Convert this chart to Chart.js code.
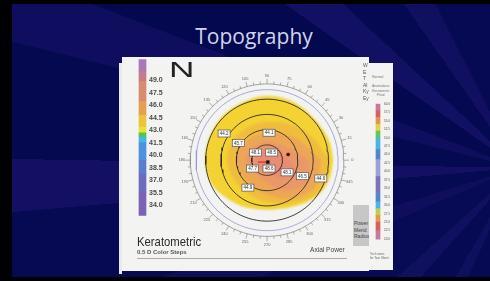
<!DOCTYPE html>
<html>
<head>
<meta charset="utf-8">
<title>Topography</title>
<script src="https://cdn.jsdelivr.net/npm/chart.js@4.4.1/dist/chart.umd.min.js"></script>
<style>
  html, body { margin: 0; padding: 0; width: 490px; height: 281px; overflow: hidden; background: #000; }
  #slide {
    position: absolute; left: 12px; top: 4px; width: 478px; height: 273px; overflow: hidden;
    background: conic-gradient(from 0deg at 106% 60%,
      #060a52 0deg 205deg, #0e0f5e 205deg 210deg, #060a52 210deg 222deg,
      #110f60 222deg 228deg, #070a55 228deg 247deg, #0f0e5d 247deg 253deg,
      #060a52 253deg 265deg, #130f62 265deg 271deg, #050950 271deg 284deg,
      #0f0e5e 284deg 291deg, #04084e 291deg 305deg, #121063 305deg 313deg,
      #050952 313deg 325deg, #100f60 325deg 333deg, #060a52 333deg 360deg);
  }
  #title { position: absolute; left: 0; top: 22px; width: 484px; text-align: center;
    font: 21px/21px "Open Sans", sans-serif; color: #d2d3ee; }
  .sheet { position: absolute; background: #f3f4f2; overflow: hidden; }
  #strip { left: 107px; top: 59px; width: 3px; height: 211px; background: #e8eae7; }
  #panel { left: 110px; top: 53px; width: 247px; height: 214px; }
  #side { left: 357px; top: 59px; width: 24px; height: 207px; }
  .t { position: absolute; font-family: "Liberation Sans", Arial, sans-serif; color: #333;
    white-space: nowrap; line-height: 1; transform-origin: left top; }
  canvas { position: absolute; }
</style>
</head>
<body>
<div id="slide">
  <div id="title">Topography</div>
  <div id="strip" class="sheet"></div>
  <div id="panel" class="sheet">
    <canvas id="topo" width="247" height="213" style="left:0;top:0"></canvas>
    <canvas id="keyBar" width="31" height="169" style="left:16px;top:-4px"></canvas>
    <div class="t" style="left:47px;top:2px;font-size:22px;transform:scaleX(1.6);color:#222">N</div>
    <div class="t" style="left:241px;top:5px;font-size:5px;line-height:6.5px;color:#555">W<br>E<br>T<br>Al<br>Ky<br>Ey</div>
    <div style="position:absolute;left:231px;top:148px;width:20px;height:41px;background:#c7c7c7"></div>
    <div class="t" style="left:232px;top:163px;font-size:5px;line-height:6.5px;color:#444">Power<br>Merid<br>Radius</div>
    <div class="t" style="left:15px;top:178px;font-size:13px;transform:scaleX(0.87);color:#2a2a2a">Keratometric</div>
    <div class="t" style="left:15px;top:192px;font-size:6px;font-weight:bold;color:#555">0.5 D Color Steps</div>
    <div class="t" style="left:188px;top:190px;font-size:6.6px;color:#444">Axial Power</div>
    <div style="position:absolute;left:15px;top:201px;width:210px;height:1px;background:#aaa"></div>
  </div>
  <div id="side" class="sheet">
    <div class="t" style="left:3px;top:12px;font-size:3.5px;line-height:4.5px;color:#777">Normal<br><br>Anomalous<br>Keratometr<br>&nbsp;&nbsp;&nbsp;&nbsp;&nbsp;Fluid</div>
    <canvas id="sideBar" width="18" height="146" style="left:4px;top:36px"></canvas>
    <div class="t" style="left:1px;top:190px;font-size:3px;line-height:3.8px;color:#666">Tech notes<br>for Tear Sheet</div>
  </div>
</div>

<script>
// ---- colour key (left) ----
const keyTicks = [34.0, 35.5, 37.0, 38.5, 40.0, 41.5, 43.0, 44.5, 46.0, 47.5, 49.0];
const keyEdges = [32, 35.5, 37.75, 39.5, 41.5, 42.2, 42.7, 43.4, 44.8, 46.5, 48.9, 50.05, 53];
const keyColors = ['#7a62b4', '#6c6cbc', '#5c7ccc', '#4e92dc', '#46b4e4', '#5cc050',
                   '#e6e23a', '#eac43c', '#e4a050', '#d68c72', '#c47c8c', '#a878b8'];

// ---- side scale (right) ----
const sideTicks = [20, 22.5, 25, 27.5, 30, 32.5, 35, 37.5, 40, 42.5, 45, 47.5, 50, 52.5, 55, 57.5, 60];
const sideEdges = [20, 22.5, 25, 27, 29, 31, 33.5, 38.5, 43.5, 46.5, 50, 52, 54, 56, 58, 60];
const sideColors = ['#c8789a', '#d6605e', '#e59a46', '#b8d04c', '#4cb4e2', '#4f86d2', '#7a70c0',
                    '#9aa0da', '#4f86d2', '#4cb4e2', '#6cc35a', '#e6cf48', '#e39448', '#d6605e', '#c8789a'];

// ---- topography map, polar [angle deg, radius mm] ----
const mapEdge = [[0, 8.6], [15, 8.5], [30, 8.3], [45, 8.2], [60, 8.3], [75, 8.4], [90, 8.4], [105, 8.3],
                 [120, 8.2], [135, 8.2], [150, 8.1], [165, 8.1], [180, 8.1], [195, 8.0], [210, 7.7],
                 [225, 7.2], [240, 6.9], [255, 6.6], [270, 6.5], [285, 6.6], [300, 7.0], [315, 7.6],
                 [330, 8.2], [345, 8.5]];
const zone445 = [[0, 8.2], [30, 6.5], [60, 5.5], [90, 5.0], [120, 5.0], [150, 5.2], [180, 5.2],
                 [210, 5.0], [240, 5.0], [270, 5.5], [300, 6.5], [330, 8.0]];
const zone460 = [[0, 7.0], [30, 5.0], [60, 4.0], [90, 3.6], [120, 3.6], [150, 3.8], [180, 4.0],
                 [210, 3.8], [240, 3.8], [270, 4.5], [300, 5.8], [330, 7.2]];
const zone475 = [[0, 5.5], [30, 3.2], [60, 2.5], [90, 2.4], [120, 2.4], [150, 2.6], [180, 2.8],
                 [210, 2.4], [240, 2.4], [270, 3.0], [300, 4.6], [330, 6.0]];
const zone485 = [[0, 3.0], [45, 1.6], [90, 1.5], [135, 1.5], [180, 1.6], [225, 1.3], [270, 1.6],
                 [310, 3.2], [335, 4.2]];
const zoneColors = ['#f3d232', '#f0bc3e', '#eda656', '#eb9868', '#e98c74'];

const contourRings = [2, 4, 6, 8];
const innerCircle = 9.25, outerCircle = 10;
const angleLabels = [0, 15, 30, 45, 60, 75, 90, 105, 120, 135, 150, 165,
                     180, 195, 210, 225, 240, 255, 270, 285, 300, 315, 330, 345];

// boxed readings (x, y in mm from the centre)
const readingX = [-5.6, 0.25, -3.75, -1.5, 0.6, -1.9, 0.25, 2.6, 4.6, 7.0, -2.5];
const readingY = [3.5, 3.6, 2.25, 1.0, 1.0, -1.1, -1.1, -1.6, -2.1, -2.4, -3.6];
const readingVal = [44.2, 44.1, 45.7, 48.1, 48.5, 47.7, 48.6, 48.1, 46.5, 44.6, 44.9];
const centreMark = { x: 0.1, y: -0.25 };
const apexDot = { x: 2.75, y: 0.75 };

const RAD = Math.PI / 180;
const toXY = pts => {
  const p = pts.map(([a, r]) => ({ x: r * Math.cos(a * RAD), y: r * Math.sin(a * RAD) }));
  p.push(p[0]);
  return p;
};
const circlePts = r => {
  const p = [];
  for (let a = 0; a <= 360; a += 4) p.push({ x: r * Math.cos(a * RAD), y: r * Math.sin(a * RAD) });
  return p;
};

const layers = [];
[mapEdge, zone445, zone460, zone475, zone485].forEach((z, i) => layers.push({
  data: toXY(z), fill: 'shape', backgroundColor: zoneColors[i], borderWidth: 0, tension: 0.35
}));
contourRings.forEach(r => layers.push({ data: circlePts(r), borderColor: '#2b2b2b', borderWidth: 0.9 }));
layers.push({ data: circlePts(innerCircle), borderColor: '#9595d6', borderWidth: 0.8 });
layers.push({ data: circlePts(outerCircle), borderColor: '#8d8d8d', borderWidth: 0.8 });
layers.push({ data: [centreMark, { x: centreMark.x - 1.3, y: centreMark.y }], borderColor: '#d03424', borderWidth: 1.2 });
layers.push({ data: [centreMark], showLine: false, pointStyle: 'rect', pointRadius: 2.3, backgroundColor: '#111' });
layers.push({ data: [apexDot], showLine: false, pointRadius: 1.8, backgroundColor: '#3a1212' });
layers.push({ data: readingX.map((x, i) => ({ x, y: readingY[i] })), showLine: false, pointRadius: 0 });
const readingIndex = 0;
layers.reverse();

const softFill = {
  id: 'softFill',
  beforeDraw(chart) { chart.ctx.filter = 'blur(0.8px)'; },
  beforeDatasetsDraw(chart) { chart.ctx.filter = 'none'; }
};

const dialDecor = {
  id: 'dialDecor',
  afterDatasetsDraw(chart) {
    const { ctx, scales: { x, y } } = chart;
    const at = (r, a) => [x.getPixelForValue(r * Math.cos(a * RAD)), y.getPixelForValue(r * Math.sin(a * RAD))];
    ctx.save();
    ctx.strokeStyle = '#7a7a7a';
    ctx.lineWidth = 0.6;
    for (let a = 0; a < 360; a += 5) {
      const [x1, y1] = at(outerCircle, a);
      const [x2, y2] = at(outerCircle + (a % 15 === 0 ? 0.65 : 0.35), a);
      ctx.beginPath(); ctx.moveTo(x1, y1); ctx.lineTo(x2, y2); ctx.stroke();
    }
    ctx.fillStyle = '#666';
    ctx.font = '4px "Liberation Sans", Arial';
    ctx.textAlign = 'center';
    ctx.textBaseline = 'middle';
    angleLabels.forEach(a => {
      const [lx, ly] = at(11.1, a);
      ctx.fillText(String(a), lx, ly);
    });
    const meta = chart.getDatasetMeta(readingIndex);
    ctx.font = '4.5px "Liberation Sans", Arial';
    meta.data.forEach((pt, i) => {
      ctx.fillStyle = '#fbfbfb';
      ctx.fillRect(pt.x - 6, pt.y - 3.5, 12, 7);
      ctx.strokeStyle = '#555';
      ctx.lineWidth = 0.7;
      ctx.strokeRect(pt.x - 6, pt.y - 3.5, 12, 7);
      ctx.fillStyle = '#333';
      ctx.fillText(readingVal[i].toFixed(1), pt.x, pt.y + 0.3);
    });
    ctx.restore();
  }
};

new Chart(document.getElementById('topo'), {
  type: 'line',
  data: { datasets: layers },
  options: {
    responsive: false, animation: false, devicePixelRatio: 1,
    layout: { padding: 0 },
    elements: { point: { radius: 0 }, line: { fill: false } },
    plugins: { legend: { display: false }, tooltip: { enabled: false }, filler: { drawTime: 'beforeDatasetsDraw' } },
    scales: {
      x: { type: 'linear', min: -18.25, max: 12.625, display: false },
      y: { type: 'linear', min: -13.75, max: 12.875, display: false }
    }
  },
  plugins: [softFill, dialDecor]
});

function colourBar(canvasId, edges, colours, ticks, min, max, tickFont, thickness, pad, axisWidth) {
  new Chart(document.getElementById(canvasId), {
    type: 'bar',
    data: {
      labels: [''],
      datasets: colours.map((c, i) => ({
        data: [[edges[i], edges[i + 1]]], backgroundColor: c, grouped: false, barThickness: thickness
      }))
    },
    options: {
      responsive: false, animation: false, devicePixelRatio: 1,
      layout: { padding: 0 },
      plugins: { legend: { display: false }, tooltip: { enabled: false } },
      scales: {
        x: { display: false },
        y: {
          position: 'right', min, max,
          grid: { display: false, drawTicks: false }, border: { display: false },
          afterBuildTicks: s => { s.ticks = ticks.map(v => ({ value: v })); },
          afterFit: s => { s.width = axisWidth; },
          ticks: { font: tickFont, color: '#4a4a4a', padding: pad, callback: v => Number(v).toFixed(1) }
        }
      }
    }
  });
}

colourBar('keyBar', keyEdges, keyColors, keyTicks, 32.73, 51.55,
  { family: '"Liberation Sans", Arial', size: 7, weight: 'bold' }, 7, 2, 22);
colourBar('sideBar', sideEdges, sideColors, sideTicks, 19.07, 60.64,
  { family: '"Liberation Sans", Arial', size: 3 }, 4, 1, 8);
</script>
</body>
</html>
